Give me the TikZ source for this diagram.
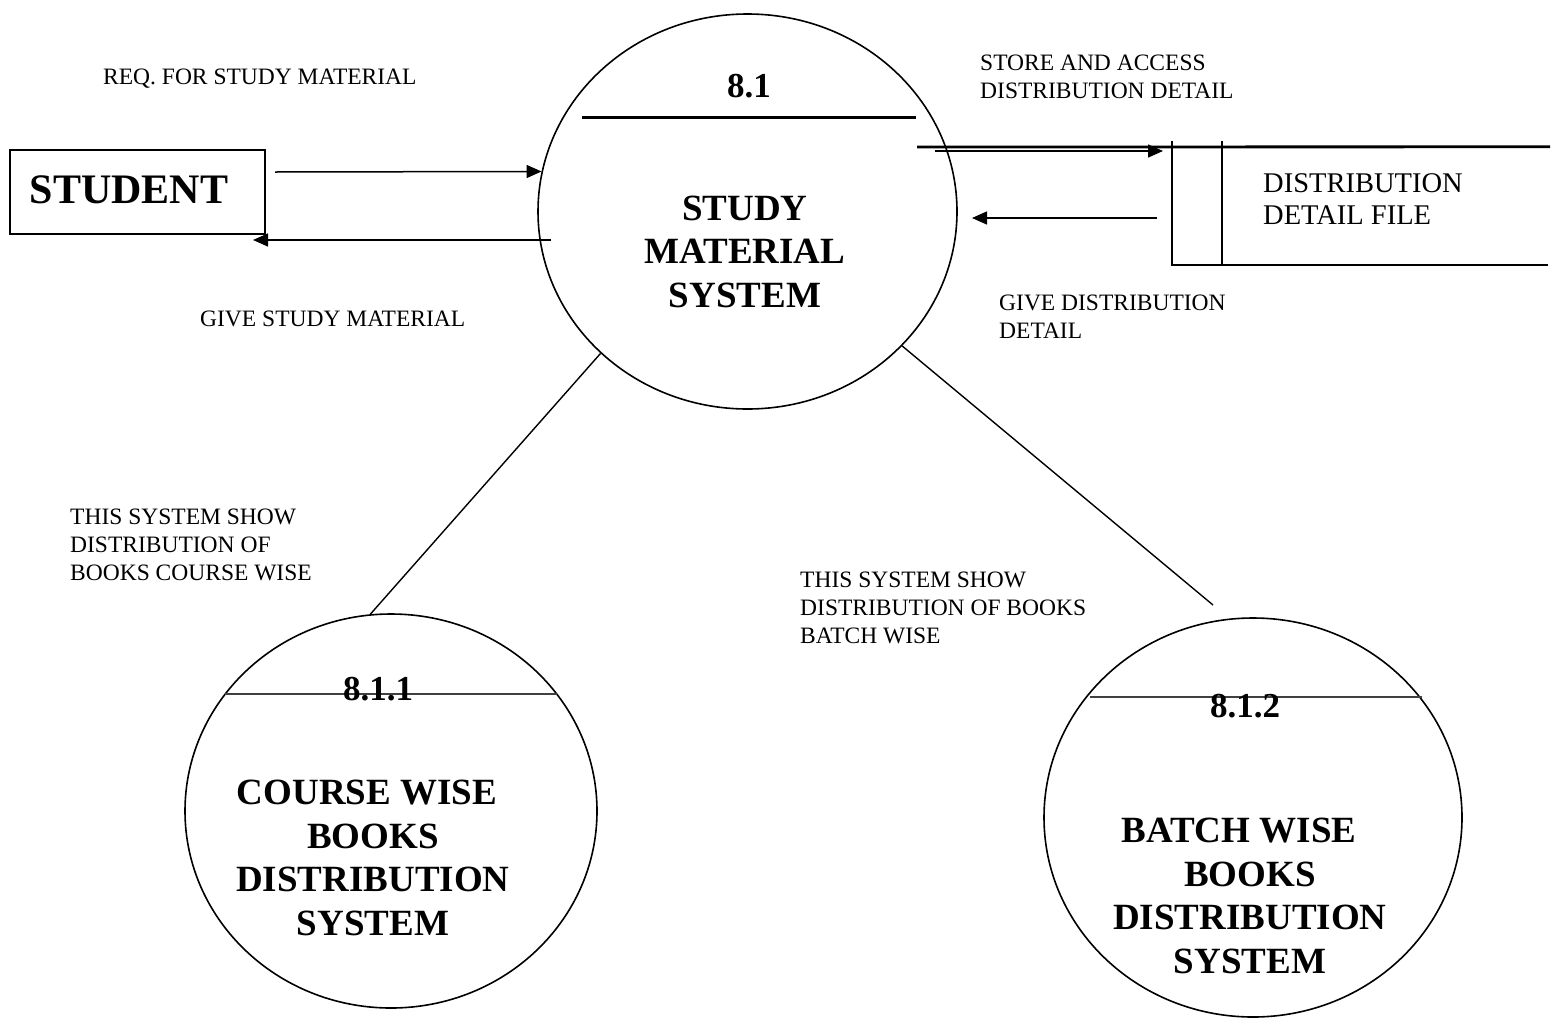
\documentclass[tikz,border=0pt]{standalone}
\usepackage{fontspec}
\setmainfont{Liberation Serif}
\usetikzlibrary{arrows.meta,shapes.geometric,calc}

\begin{document}
\begin{tikzpicture}[x=1pt,y=-1pt,
  proc/.style={draw, line width=1.6pt, ellipse, inner sep=0pt},
  divider/.style={line width=1.5pt, black!75},
  flow/.style={line width=1.5pt, -{Triangle[length=15pt,width=13pt]}},
  link/.style={line width=1.4pt},
  storeline/.style={line width=1.6pt},
  lbl/.style={font=\fontsize{23.5}{28}\selectfont, align=left, anchor=base west, inner sep=0pt},
  ttl/.style={font=\bfseries\fontsize{37}{43.5}\selectfont, align=center, anchor=base, inner sep=0pt},
  num/.style={font=\bfseries\fontsize{35}{40}\selectfont, anchor=base, inner sep=0pt}]

% page
\fill[white] (0,0) rectangle (1558,1023);
\useasboundingbox (0,0) rectangle (1558,1023);

% multi-line nodes are placed by the baseline of their last line

% ---------- external entity ----------
\node[draw, line width=1.6pt, minimum width=255, minimum height=84, inner sep=0pt] (student) at (137.5,192) {};
\node[font=\bfseries\fontsize{42}{42}\selectfont, anchor=base, inner sep=0pt] (studenttxt) at (129,203) {STUDENT};

% ---------- main process 8.1 ----------
\node[proc, minimum width=419, minimum height=395] (main) at (747.5,211.5) {};
\coordinate (mainL) at (582,117);
\coordinate (mainR) at (916,117);
\draw[line width=3pt] (mainL) -- (mainR);
\node[num] (n81) at (749,97) {8.1};
\node[ttl] (t81) at (745,307) {STUDY\\MATERIAL\\SYSTEM};

% ---------- data store ----------
\node[minimum width=378, minimum height=118, inner sep=0pt] (store) at (1361,206) {};
\coordinate (storeTopStart) at (917,147);
\draw[line width=2.8pt] (storeTopStart) -- (store.north east);
\draw[storeline] ([yshift=6]store.north west) -- (store.south west) -- ([xshift=-2]store.south east);
\draw[storeline] ([xshift=50,yshift=6]store.north west) -- ([xshift=50]store.south west);
\node[font=\fontsize{28.5}{31.5}\selectfont, align=left, anchor=base west, inner sep=0pt] (storetxt) at (1263,224) {DISTRIBUTION\\DETAIL FILE};

% ---------- sub-processes ----------
\node[proc, minimum width=412, minimum height=394] (c811) at (391,811) {};
\coordinate (c811L) at (225,694);
\coordinate (c811R) at (557,694);
\draw[divider] (c811L) -- (c811R);
\node[num] (n811) at (378,700) {8.1.1};
\node[ttl] (t811) at (373,935) {COURSE WISE\hspace*{12pt}\\BOOKS\\DISTRIBUTION\\SYSTEM};

\node[proc, minimum width=418, minimum height=399] (c812) at (1253,817.5) {};
\coordinate (c812L) at (1090,697);
\coordinate (c812R) at (1422,697);
\draw[divider] (c812L) -- (c812R);
\node[num] (n812) at (1245,717) {8.1.2};
\node[ttl] (t812) at (1250,973) {BATCH WISE\hspace*{22pt}\\BOOKS\\DISTRIBUTION\\SYSTEM};

% ---------- data flows ----------
\coordinate (reqStart) at (275,172);
\coordinate (giveStart) at (551,240);
\coordinate (giveEnd) at (253,240);
\coordinate (storeIn) at (935,151);
\coordinate (storeInEnd) at (1163,151);
\coordinate (storeOut) at (1157,218);
\coordinate (storeOutEnd) at (972,218);
\draw[flow] (reqStart) -- (main.169);
\draw[flow] (giveStart) -- (giveEnd);
\draw[flow] (storeIn) -- (storeInEnd);
\draw[flow] (storeOut) -- (storeOutEnd);

% ---------- decomposition links ----------
\coordinate (batchEnd) at (1213,605);
\draw[link] (main.224.6) -- (c811.96);
\draw[link] (main.-41.6) -- (batchEnd);

% ---------- labels ----------
\node[lbl] (lreq) at (103,84) {REQ. FOR STUDY MATERIAL};
\node[lbl] (lgive) at (200,326) {GIVE STUDY MATERIAL};
\node[lbl] (lstore) at (980,98) {STORE AND ACCESS\\DISTRIBUTION DETAIL};
\node[lbl] (lgived) at (999,338) {GIVE DISTRIBUTION\\DETAIL};
\node[lbl] (lcourse) at (70,580) {THIS SYSTEM SHOW\\DISTRIBUTION OF\\BOOKS COURSE WISE};
\node[lbl] (lbatch) at (800,643) {THIS SYSTEM SHOW\\DISTRIBUTION OF BOOKS\\BATCH WISE};
\end{tikzpicture}
\end{document}
